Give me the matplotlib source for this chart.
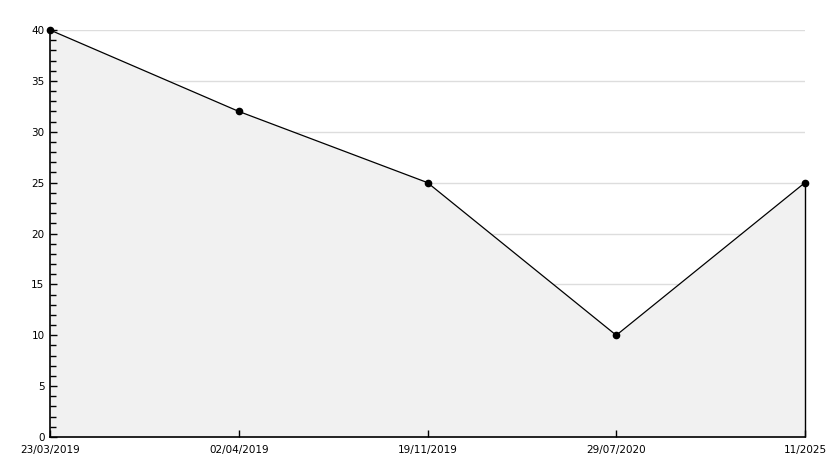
import matplotlib.pyplot as plt
from matplotlib.ticker import MultipleLocator

labels = ['23/03/2019', '02/04/2019', '19/11/2019', '29/07/2020', '11/2025']
values = [40, 32, 25, 10, 25]
grid_levels = [5, 10, 15, 20, 25, 30, 35, 40]

x = list(range(len(labels)))

fig = plt.figure(figsize=(8.34, 4.68), dpi=100)
ax = fig.add_axes([50 / 834, 1 - 437 / 468, 755 / 834, 407 / 468])

# grid lines under the filled area
for g in grid_levels:
    ax.axhline(g, color='#dddddd', linewidth=1, zorder=0.5)

ax.fill_between(x, values, 0, color='#f1f1f1', linewidth=0, zorder=1)
ax.plot(x, values, color='black', linewidth=0.9, marker='o', markersize=4.5,
        zorder=5, clip_on=False)
ax.vlines(x[-1], 0, values[-1], color='black', linewidth=1, zorder=3, clip_on=False)

ax.set_xlim(0, len(labels) - 1)
ax.set_ylim(0, 40)
ax.set_xticks(x)
ax.set_xticklabels(labels)
ax.yaxis.set_major_locator(MultipleLocator(5))
ax.yaxis.set_minor_locator(MultipleLocator(1))
ax.set_axisbelow(False)

for side in ['top', 'right']:
    ax.spines[side].set_visible(False)
for side in ['left', 'bottom']:
    ax.spines[side].set_linewidth(1.2)
    ax.spines[side].set_zorder(4)

ax.tick_params(axis='both', which='major', direction='in', length=5, width=1,
               labelsize=7.5, pad=4)
ax.tick_params(axis='y', which='minor', direction='in', length=4, width=1)
ax.tick_params(axis='x', pad=6)

fig.savefig('out.png', dpi=100)
